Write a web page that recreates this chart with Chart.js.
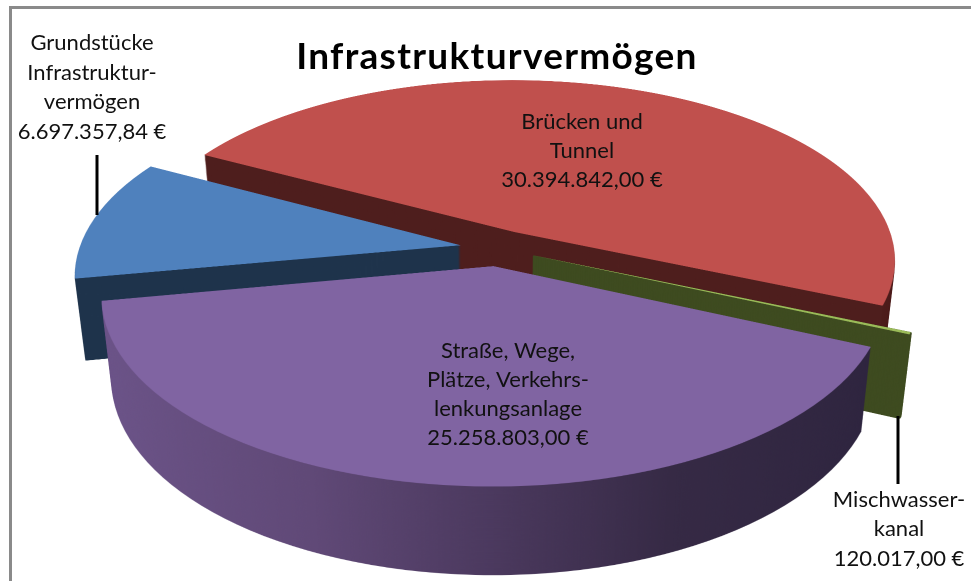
<!DOCTYPE html>
<html>
<head>
<meta charset="utf-8">
<style>html,body{margin:0;padding:0;background:#fff}canvas{display:block}</style>
<script src="https://cdn.jsdelivr.net/npm/chart.js@4"></script>
</head>
<body>
<canvas id="c" width="971" height="581"></canvas>
<script>
const chartTitle = 'Infrastrukturvermögen';
const categories = ['Straße, Wege, Plätze, Verkehrslenkungsanlage', 'Grundstücke Infrastrukturvermögen', 'Brücken und Tunnel', 'Mischwasserkanal'];
const values = [25258803.00, 6697357.84, 30394842.00, 120017.00];
const labelLines = [
  ['Straße, Wege,', 'Plätze, Verkehrs-', 'lenkungsanlage', '25.258.803,00 €'],
  ['Grundstücke', 'Infrastruktur-', 'vermögen', '6.697.357,84 €'],
  ['Brücken und', 'Tunnel', '30.394.842,00 €'],
  ['Mischwasser-', 'kanal', '120.017,00 €']
];
const topColors = ['#8064a2', '#4f81bd', '#c0504d', '#9bbb59'];
const wallColors = [null, '#1f344c', '#4f1f1e', '#3f4c21'];
const purpleWallStops = [[0, '#6e568b'], [0.3, '#614a78'], [0.5, '#4c3a5f'], [0.7, '#372b46'], [1, '#2f2640']];

/* view: a tilted pie seen in perspective */
const VIEW = {ox: 498, oy: 248, rx: 381, alpha: 180, beta: 0.155, explode: 0.1,
              depth0: 81, depthK: 0.032, shrink: 0.025};
const SS = 2, SRC = 3;
const drawOrder = [2, 3, 1, 0];
const labelPos = [
  {x: 508, y: 351, lh: 29}, {x: 92, y: 43, lh: 29.5}, {x: 582, y: 122, lh: 29}, {x: 899, y: 500, lh: 29.3}
];
const leaders = [[97, 155, 97, 215], [898, 416, 898, 484]];

function renderSource(arc, R, fill, edge) {
  const half = Math.ceil(R * 1.2 * SRC), W = half * 2;
  const cv = document.createElement('canvas');
  cv.width = cv.height = W;
  const c = cv.getContext('2d', {willReadFrequently: true});
  const mid = (arc.startAngle + arc.endAngle) / 2;
  c.translate(half, half);
  c.scale(SRC, SRC);
  c.translate(-arc.x + Math.cos(mid) * VIEW.explode * R, -arc.y + Math.sin(mid) * VIEW.explode * R);
  const keep = arc.options;
  let bg = fill;
  if (Array.isArray(fill)) {
    bg = c.createLinearGradient(arc.x - R, 0, arc.x + R, 0);
    fill.forEach(s => bg.addColorStop(s[0], s[1]));
  }
  arc.options = Object.assign({}, keep, {backgroundColor: bg, borderColor: bg, borderWidth: edge || 0, offset: 0});
  arc.draw(c);
  arc.options = keep;
  const d = c.getImageData(0, 0, W, W).data;
  let x0 = W, x1 = 0, y0 = W, y1 = 0;
  for (let y = 0; y < W; y++) for (let x = 0; x < W; x++) {
    if (d[(y * W + x) * 4 + 3] > 0) {
      if (x < x0) x0 = x; if (x > x1) x1 = x; if (y < y0) y0 = y; if (y > y1) y1 = y;
    }
  }
  return {cv, half, Rs: R * SRC, x0, x1: x1 + 1, y0, y1: y1 + 1};
}

function warp(out, s, t, H) {
  const V = VIEW;
  for (let dy = 0; dy < H; dy++) {
    const yc = (dy + 0.5) / SS;
    const y = (yc - t * V.depth0 + t * V.depthK * V.oy) / (1 + t * V.depthK);
    const tt = (y - V.oy) / V.alpha;
    const den = 1 + V.beta * tt;
    if (den <= 0) continue;
    const v = tt / den;
    const sy = s.half + v * s.Rs;
    if (sy < s.y0 || sy >= s.y1) continue;
    const g = 1 / (1 - V.beta * v);
    const sc = V.rx * g * (1 - V.shrink * t) / s.Rs * SS;
    const dx = SS * V.ox + (s.x0 - s.half) * sc;
    out.drawImage(s.cv, s.x0, sy - 0.5, s.x1 - s.x0, 1, dx, dy, (s.x1 - s.x0) * sc, 1);
  }
}

const pie3d = {
  id: 'pie3d',
  beforeDraw(chart) { chart.ctx.letterSpacing = '1.3px'; },
  beforeDatasetsDraw(chart) {
    chart.ctx.letterSpacing = '0px';
    const meta = chart.getDatasetMeta(0);
    const W = chart.width * SS, H = chart.height * SS;
    const layer = document.createElement('canvas');
    layer.width = W; layer.height = H;
    const out = layer.getContext('2d');
    out.imageSmoothingEnabled = true;
    drawOrder.forEach(i => {
      const arc = meta.data[i], R = arc.outerRadius;
      const thin = i === 3;
      const wall = renderSource(arc, R, wallColors[i] || purpleWallStops, thin ? 1.5 : 0);
      const top = renderSource(arc, R, topColors[i], 0);
      const step = thin ? 0.5 : 1;
      for (let d = VIEW.depth0; d > 0; d -= step) warp(out, wall, d / VIEW.depth0, H);
      warp(out, top, 0, H);
    });
    chart.ctx.drawImage(layer, 0, 0, chart.width, chart.height);
    return false;
  },
  afterDraw(chart) {
    const c = chart.ctx;
    c.save();
    c.strokeStyle = '#8a8a8a'; c.lineWidth = 3;
    c.beginPath(); c.moveTo(10.5, 581); c.lineTo(10.5, 7.5); c.lineTo(971, 7.5); c.stroke();
    c.strokeStyle = '#000'; c.lineWidth = 3;
    leaders.forEach(l => { c.beginPath(); c.moveTo(l[0], l[1]); c.lineTo(l[2], l[3]); c.stroke(); });
    c.fillStyle = '#111';
    c.font = '22px Lato';
    c.textAlign = 'center'; c.textBaseline = 'middle';
    labelLines.forEach((lines, i) => {
      const p = labelPos[i];
      lines.forEach((t, k) => c.fillText(t, p.x, p.y + k * p.lh));
    });
    c.restore();
  }
};

new Chart(document.getElementById('c'), {
  type: 'pie',
  plugins: [pie3d],
  data: {labels: categories, datasets: [{data: values, backgroundColor: topColors, borderWidth: 0}]},
  options: {
    responsive: false, animation: false, rotation: 114,
    layout: {padding: {left: 23, top: 35}},
    plugins: {
      legend: {display: false}, tooltip: {enabled: false},
      title: {display: true, text: chartTitle, fullSize: false, color: '#000',
              font: {family: 'Lato', size: 37, weight: 'bold'}, padding: {top: 0, bottom: 4}}
    }
  }
});
</script>
</body>
</html>
